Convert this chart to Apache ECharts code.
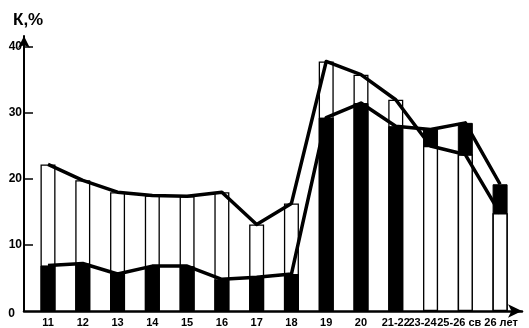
<!DOCTYPE html>
<html>
<head>
<meta charset="utf-8">
<script src="https://cdn.jsdelivr.net/npm/echarts@6/dist/echarts.min.js"></script>
<style>
html,body{margin:0;padding:0;background:#fff;}
#c{width:529px;height:328px;}
</style>
</head>
<body>
<div id="c"></div>
<script>
// Age groups
const categories = ['11','12','13','14','15','16','17','18','19','20','21-22','23-24','25-26','св 26 лет'];
// Upper series (outlined white bars, upper line)
const upperValues = [22.2, 19.8, 18.0, 17.5, 17.4, 18.0, 13.1, 16.3, 37.8, 35.8, 32.0, 25.0, 23.7, 14.8];
// Black series (black bars, lower line)
const blackValues = [6.9, 7.2, 5.6, 6.8, 6.8, 4.8, 5.1, 5.6, 29.3, 31.5, 28.0, 27.5, 28.5, 19.2];
// Y tick labels
const yTicks = [0, 10, 20, 30, 40];
const yTickMarks = [10, 20, 30, 40];

const FONT = 'Liberation Sans';
const idx = categories.map((_, i) => i);
const upperData = idx.map(i => [i, upperValues[i]]);
const blackData = idx.map(i => [i, blackValues[i]]);
// where black exceeds the outlined series, the outlined bar sits in front of the black one
const frontData = idx.map(i => blackValues[i] > upperValues[i] ? [i, upperValues[i]] : [i, null]);

const chart = echarts.init(document.getElementById('c'), null, {renderer: 'canvas'});
chart.setOption({
  animation: false,
  backgroundColor: '#fff',
  title: {
    text: 'К,%', left: 8, top: 7,
    textStyle: {fontFamily: FONT, fontSize: 17, fontWeight: 'bold', color: '#000'}
  },
  grid: {left: 24, right: 7, top: 36, bottom: 16, containLabel: false},
  xAxis: {
    type: 'value', min: -0.69, max: 13.63,
    splitLine: {show: false},
    axisLine: {onZero: false, lineStyle: {color: '#000', width: 2.5}, symbol: ['none', 'arrow'], symbolSize: [10, 14]},
    axisTick: {show: false},
    axisLabel: {
      customValues: idx,
      margin: 6,
      color: '#000', fontFamily: FONT, fontSize: 11, fontWeight: 'bold',
      formatter: v => {
        const i = Math.round(v);
        if (i === 11) return '{a|' + categories[i] + '}';
        if (i === 12) return '{b|' + categories[i] + '}';
        if (i === 13) return '{c|' + categories[i] + '}';
        return categories[i];
      },
      rich: {
        a: {fontFamily: FONT, fontSize: 11, fontWeight: 'bold', color: '#000', padding: [0, 16, 0, 0]},
        b: {fontFamily: FONT, fontSize: 11, fontWeight: 'bold', color: '#000', padding: [0, 28, 0, 0]},
        c: {fontFamily: FONT, fontSize: 11, fontWeight: 'bold', color: '#000', padding: [0, 14, 0, 0]}
      }
    }
  },
  yAxis: {
    type: 'value', min: 0, max: 41.66,
    splitLine: {show: false},
    axisLine: {onZero: false, lineStyle: {color: '#000', width: 2}, symbol: ['none', 'arrow'], symbolSize: [9, 12]},
    axisTick: {show: true, customValues: yTickMarks, inside: true, length: 9, lineStyle: {color: '#000', width: 1.5}},
    axisLabel: {
      customValues: yTicks, margin: 2,
      color: '#000', fontFamily: FONT, fontSize: 12, fontWeight: 'bold',
      formatter: v => v === 0 ? '{z|0}' : String(v),
      rich: {z: {fontFamily: FONT, fontSize: 12, fontWeight: 'bold', color: '#000', padding: [6, 7, 0, 0]}}
    }
  },
  series: [
    {
      name: 'upperBars', type: 'bar', data: upperData, barWidth: 15, barGap: '-100%', z: 2,
      itemStyle: {color: '#fff', borderColor: '#000', borderWidth: 1.3}
    },
    {
      name: 'blackBars', type: 'bar', data: blackData, barWidth: 15, barGap: '-100%', z: 3,
      itemStyle: {color: '#000', borderColor: '#000', borderWidth: 1}
    },
    {
      name: 'frontBars', type: 'bar', data: frontData, barWidth: 15, barGap: '-100%', z: 4,
      itemStyle: {color: '#fff', borderColor: '#000', borderWidth: 1.3}
    },
    {
      name: 'upperLine', type: 'line', data: upperData, z: 6, symbol: 'none',
      lineStyle: {color: '#000', width: 3.5, join: 'round'}
    },
    {
      name: 'blackLine', type: 'line', data: blackData, z: 6, symbol: 'none',
      lineStyle: {color: '#000', width: 3.5, join: 'round'}
    }
  ]
});
</script>
</body>
</html>
